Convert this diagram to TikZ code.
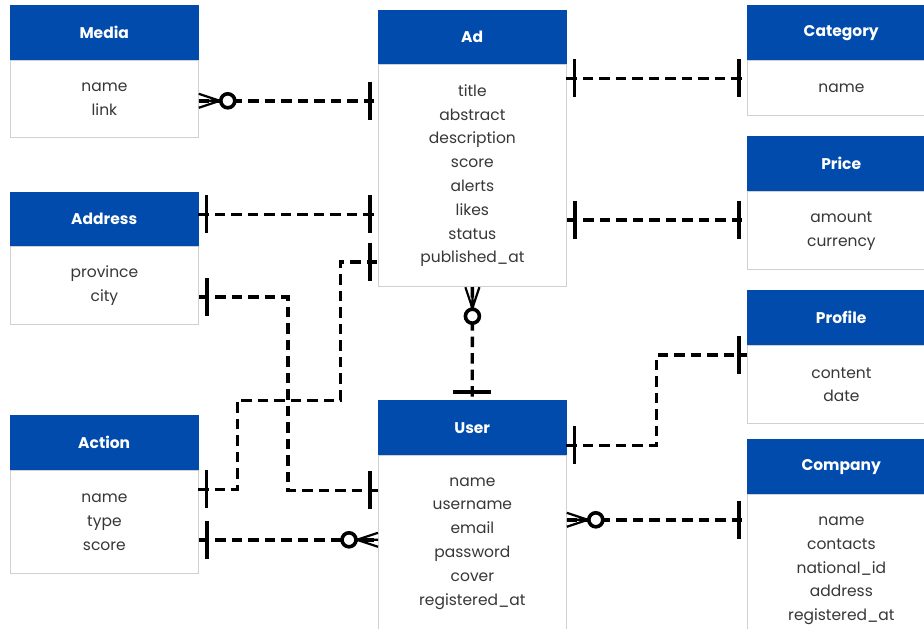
\documentclass[tikz,border=0pt]{standalone}
\usepackage{fontspec}
\setmainfont{Poppins}
\usetikzlibrary{calc}

\definecolor{hdrblue}{RGB}{0,75,172}
\definecolor{edgegray}{RGB}{208,208,208}
\definecolor{fieldtext}{RGB}{55,55,55}

\tikzset{
  x=1pt, y=-1pt,
  hdr/.style={fill=hdrblue, draw=hdrblue, text=white,
    font=\fontsize{15.5}{18}\selectfont\bfseries,
    minimum width=188pt, inner sep=0pt, anchor=north west},
  fields/.style={draw=edgegray, line width=0.8pt, fill=white, text=fieldtext,
    align=center, font=\fontsize{15.5}{23.8}\selectfont,
    minimum width=188pt, inner sep=0pt, anchor=north west},
  rel/.style={line width=3.4pt, dash pattern=on 10.5pt off 6pt},
  mk/.style={line width=3.6pt},
  leg/.style={line width=2.2pt},
}

% entity: name, left, top, header height, body height, title, fields
\newcommand\erEntity[7]{%
  \node[hdr, minimum height=#4pt] (#1H) at (#2,#3) {#6};
  \node[fields, minimum height=#5pt] (#1) at (#1H.south west) {#7};
}
% "exactly one" bar on a horizontal / vertical connector end
\newcommand\erBarH[2]{\draw[mk] ($(#1)+(#2*8,-19)$) -- ($(#1)+(#2*8,19)$);}
\newcommand\erBarV[2]{\draw[mk] ($(#1)+(-19,#2*8)$) -- ($(#1)+(19,#2*8)$);}
% "zero or many" crow's foot with ring
\newcommand\erCrowH[2]{%
  \draw[leg] ($(#1)+(0,-7)$) -- ($(#1)+(#2*21,0)$) -- ($(#1)+(0,7)$)
             (#1) -- ($(#1)+(#2*21,0)$);
  \draw[mk, fill=white] ($(#1)+(#2*29,0)$) circle[radius=7pt];}
\newcommand\erCrowV[2]{%
  \draw[leg] ($(#1)+(-7,0)$) -- ($(#1)+(0,#2*21)$) -- ($(#1)+(7,0)$)
             (#1) -- ($(#1)+(0,#2*21)$);
  \draw[mk, fill=white] ($(#1)+(0,#2*29)$) circle[radius=7pt];}

\begin{document}
\begin{tikzpicture}
\useasboundingbox (0,0) rectangle (924,629);
\clip (0,0) rectangle (924,629);

% entities
\erEntity{media}{10}{5}{55}{77}{Media}{name\\link}
\erEntity{ad}{378}{10}{54}{222}{Ad}{title\\abstract\\description\\score\\alerts\\likes\\status\\published\_at}
\erEntity{cat}{747}{5}{55}{55}{Category}{name}
\erEntity{price}{747}{136}{55}{78}{Price}{amount\\currency}
\erEntity{addr}{10}{192}{54}{78}{Address}{province\\city}
\erEntity{profile}{747}{290}{55}{78}{Profile}{content\\date}
\erEntity{action}{10}{415}{55}{103}{Action}{name\\type\\score}
\erEntity{user}{378}{400}{55}{175}{User}{name\\username\\email\\password\\cover\\registered\_at}
\erEntity{company}{747}{439}{55}{152}{Company}{name\\contacts\\national\_id\\address\\registered\_at}

% connector end points
\coordinate (mA) at ($(media.east)+(0,1.5)$);
\coordinate (aM) at (mA -| ad.west);
\coordinate (aC) at ($(adH.south east)+(0,14)$);
\coordinate (cA) at (aC -| cat.west);
\coordinate (pA) at ($(price.west)+(0,-11)$);
\coordinate (aP) at (pA -| ad.east);
\coordinate (dA) at ($(addrH.east)+(0,-5)$);
\coordinate (aD) at (dA -| ad.west);
\coordinate (dU) at ($(addr.east)+(0,11)$);
\coordinate (uD) at ($(user.west)+(0,-53)$);
\coordinate (xA) at ($(actionH.south east)+(0,19)$);
\coordinate (aX) at ($(ad.west)+(0,86)$);
\coordinate (xU) at ($(action.east)+(0,17.5)$);
\coordinate (uX) at (xU -| user.west);
\coordinate (uF) at ($(userH.east)+(0,17.5)$);
\coordinate (fU) at ($(profile.west)+(0,-30)$);
\coordinate (kU) at ($(company.west)+(0,-51)$);
\coordinate (uK) at (kU -| user.east);

% relationship lines
\draw[rel] (mA) -- (aM);
\draw[rel] (aC) -- (cA);
\draw[rel] (aP) -- (pA);
\draw[rel] (dA) -- (aD);
\draw[rel] (dU) -- ++(89,0) |- (uD);
\draw[rel] (xA) -- ++(39,0) -- ++(0,-89) -- ++(103,0) |- (aX);
\draw[rel] (xU) -- (uX);
\draw[rel] (ad.south) -- (userH.north);
\draw[rel] (uF) -- ++(90,0) |- (fU);
\draw[rel] (uK) -- (kU);

% cardinality marks
\erCrowH{mA}{1}   \erBarH{aM}{-1}
\erBarH{aC}{1}    \erBarH{cA}{-1}
\erBarH{aP}{1}    \erBarH{pA}{-1}
\erBarH{dA}{1}    \erBarH{aD}{-1}
\erBarH{dU}{1}    \erBarH{uD}{-1}
\erBarH{xA}{1}    \erBarH{aX}{-1}
\erBarH{xU}{1}    \erCrowH{uX}{-1}
\erCrowV{ad.south}{1} \erBarV{userH.north}{-1}
\erBarH{uF}{1}    \erBarH{fU}{-1}
\erCrowH{uK}{1}   \erBarH{kU}{-1}
\end{tikzpicture}
\end{document}
